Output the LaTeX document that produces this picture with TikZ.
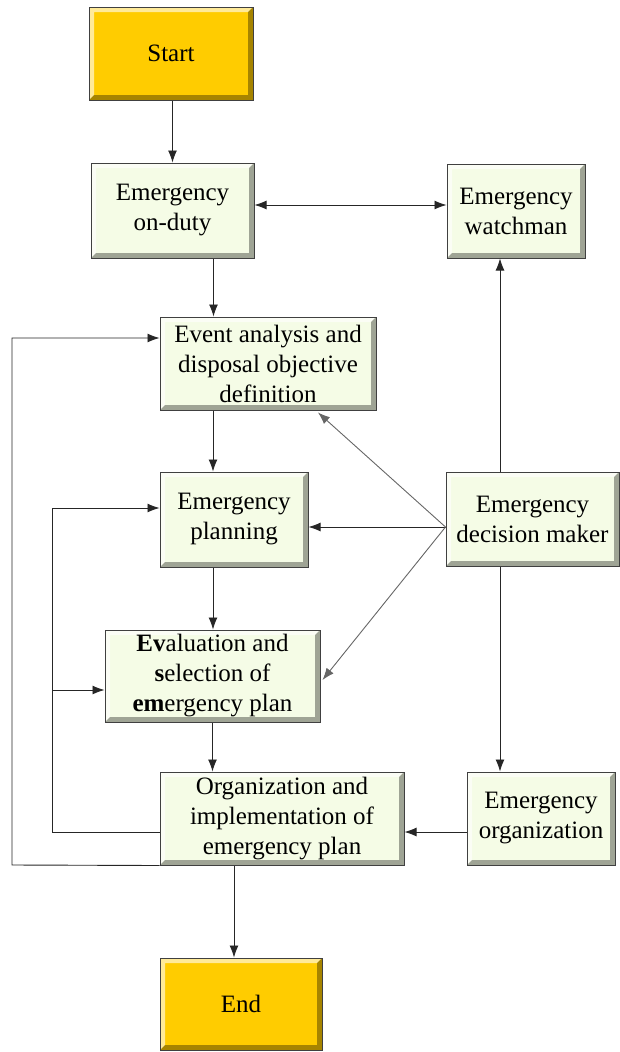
\documentclass[tikz,border=0pt]{standalone}
\usepackage{fontspec}
\setmainfont{Liberation Serif}
\usetikzlibrary{arrows.meta}

\definecolor{boxgreen}{HTML}{F5FCE6}
\definecolor{gold}{HTML}{FFCC00}

\tikzset{
  >={Latex[length=12pt,width=9pt]},
  bevel/.style={path picture={
    \fill[white,opacity=.6] (path picture bounding box.south west) -- (path picture bounding box.north west) -- (path picture bounding box.north east)
      -- ([shift={(-5pt,-5pt)}]path picture bounding box.north east) -- ([shift={(5pt,-5pt)}]path picture bounding box.north west)
      -- ([shift={(5pt,5pt)}]path picture bounding box.south west) -- cycle;
    \fill[black,opacity=.35] (path picture bounding box.south west) -- (path picture bounding box.south east) -- (path picture bounding box.north east)
      -- ([shift={(-5pt,-5pt)}]path picture bounding box.north east) -- ([shift={(-5pt,5pt)}]path picture bounding box.south east)
      -- ([shift={(5pt,5pt)}]path picture bounding box.south west) -- cycle;}},
  stepbox/.style={shape=rectangle,draw=black!75,fill=boxgreen,line width=1pt,bevel,align=center,inner sep=0pt,
    font=\fontsize{25}{30}\selectfont},
  endbox/.style={stepbox,fill=gold},
  link/.style={->,draw=black!85,line width=0.9pt},
  slant/.style={link,draw=black!60}
}

\begin{document}
\begin{tikzpicture}[x=1pt,y=-1pt]
\useasboundingbox (0,0) rectangle (619,1052);

\node[endbox,minimum width=164pt,minimum height=93pt] (start) at (171,53.5) {Start};
\node[stepbox,minimum width=163pt,minimum height=95pt] (duty) at (172.5,210.5) {Emergency\\on-duty};
\node[stepbox,minimum width=138pt,minimum height=94pt] (watch) at (516,211) {Emergency\\watchman};
\node[stepbox,minimum width=216pt,minimum height=93pt] (event) at (268,363.5) {Event analysis and\\disposal objective\\definition};
\node[stepbox,minimum width=148pt,minimum height=95pt] (plan) at (234,519.5) {Emergency\\planning};
\node[stepbox,minimum width=173pt,minimum height=94pt] (decide) at (532.5,519) {Emergency\\decision maker};
\node[stepbox,minimum width=215pt,minimum height=92pt] (select) at (212.5,676) {\textbf{Ev}aluation and\\\textbf{s}election of\\\textbf{em}ergency plan};
\node[stepbox,minimum width=244pt,minimum height=93pt] (org) at (282,818.5) {Organization and\\implementation of\\emergency plan};
\node[stepbox,minimum width=148pt,minimum height=93pt] (eorg) at (541,818.5) {Emergency\\organization};
\node[endbox,minimum width=162pt,minimum height=92pt] (end) at (241,1004) {End};

\coordinate (fan) at ([yshift=-8pt]decide.west);
\coordinate (outer) at (12,865);
\coordinate (inner) at (52,832);

% main line
\draw[link] (duty.north |- start.south) -- (duty.north);
\draw[link] ([xshift=41pt]duty.south) -- ([xshift=41pt]duty.south |- event.north);
\draw[link] ([xshift=-55pt]event.south) -- ([xshift=-55pt]event.south |- plan.north);
\draw[link] ([xshift=-21pt]plan.south) -- ([xshift=-21pt]plan.south |- select.north);
\draw[link] (select.south) -- (select.south |- org.north);
\draw[link] ([xshift=-7pt]end.north |- org.south) -- ([xshift=-7pt]end.north);

% right side
\draw[link,<->] ([yshift=5.5pt]duty.east) -- ([yshift=5.5pt]duty.east -| watch.west);
\draw[link] ([xshift=-32.5pt]decide.north) -- ([xshift=-32.5pt]decide.north |- watch.south);
\draw[link] ([xshift=-32.5pt]decide.south) -- ([xshift=-32.5pt]decide.south |- eorg.north);
\draw[link] ([yshift=-13.5pt]eorg.west) -- ([yshift=-13.5pt]eorg.west -| org.east);
\draw[slant] (fan) -- ([xshift=50pt,yshift=-2pt]event.south);
\draw[link] (fan) -- (fan -| plan.east);
\draw[slant] (fan) -- ([xshift=2pt,yshift=-4pt]select.east);

% feedback loops
\draw[link] (org.south west) -- (outer) |- ([yshift=25.5pt]event.west);
\draw[link] ([yshift=-13.5pt]org.west) -- (inner) |- ([yshift=11.5pt]plan.west);
\draw[link] ([yshift=-14pt]select.west -| inner) -- ([yshift=-14pt]select.west);
\end{tikzpicture}
\end{document}
